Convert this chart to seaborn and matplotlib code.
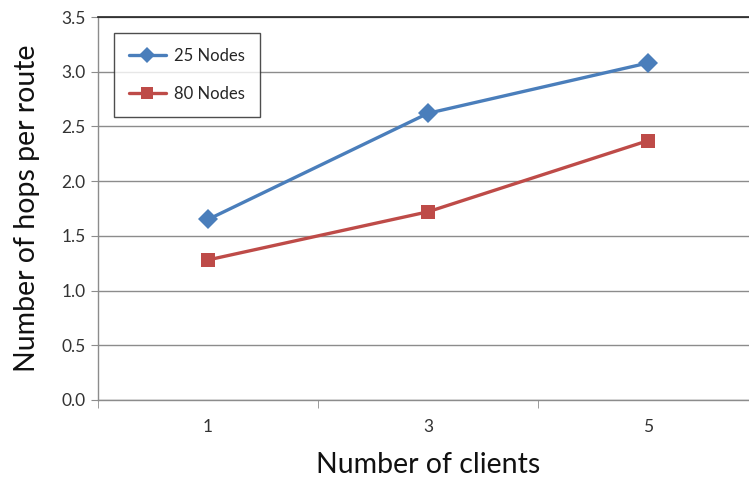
import pandas as pd
import seaborn as sns
import matplotlib.pyplot as plt
from matplotlib.ticker import FixedLocator

# values
clients = ['1', '3', '5']
nodes_25 = [1.65, 2.62, 3.08]
nodes_80 = [1.28, 1.72, 2.37]
series = ['25 Nodes', '80 Nodes']
y_ticks = [0.0, 0.5, 1.0, 1.5, 2.0, 2.5, 3.0, 3.5]

df = pd.DataFrame({
    'clients': clients * 2,
    'hops': nodes_25 + nodes_80,
    'series': [series[0]] * 3 + [series[1]] * 3,
})

sns.set_style('white')
plt.rcParams['font.family'] = ['Lato', 'DejaVu Sans']

fig = plt.figure(figsize=(7.49, 4.78), dpi=100)
ax = fig.add_axes([98 / 749, 78 / 478, 660 / 749, 383 / 478])

palette = {'25 Nodes': '#4A7EBB', '80 Nodes': '#BE4B48'}
markers = {'25 Nodes': 'D', '80 Nodes': 's'}
sns.lineplot(data=df, x='clients', y='hops', hue='series', style='series',
             palette=palette, markers=markers, dashes=False, linewidth=2.4,
             markersize=10, markeredgewidth=0, ax=ax)

ax.set_xlim(-0.5, 2.5)
ax.set_ylim(0, 3.5)
ax.set_yticks(y_ticks)
ax.set_yticklabels([f'{v:.1f}' for v in y_ticks])
ax.yaxis.grid(True, color='#8c8c8c', linewidth=1)
ax.set_axisbelow(True)

ax.xaxis.set_minor_locator(FixedLocator([-0.5, 0.5, 1.5]))
ax.tick_params(axis='x', which='major', length=0, pad=14, labelsize=12.5, colors='#333333')
ax.tick_params(axis='x', which='minor', length=6, color='#8c8c8c', direction='out', bottom=True)
ax.tick_params(axis='y', length=5, color='#8c8c8c', direction='out', left=True,
               labelsize=12.5, colors='#333333', pad=4)

for side in ['left', 'bottom']:
    ax.spines[side].set_color('#8c8c8c')
    ax.spines[side].set_linewidth(1)
ax.spines['top'].set_color('#222222')
ax.spines['top'].set_linewidth(1.2)
ax.spines['right'].set_visible(False)

ax.set_xlabel('Number of clients', fontsize=20.5, labelpad=12, color='#111111')
ax.set_ylabel('Number of hops per route', fontsize=20.5, labelpad=15, color='#111111')

ax.legend(loc='upper left', bbox_to_anchor=(16 / 660, 1 - 16 / 383), borderaxespad=0,
          frameon=True, fancybox=False, edgecolor='#222222', fontsize=12,
          handlelength=2.2, labelspacing=1.3, borderpad=0.9, handletextpad=0.5,
          markerscale=0.8).get_frame().set_linewidth(1)

fig.savefig('out.png', dpi=100)
